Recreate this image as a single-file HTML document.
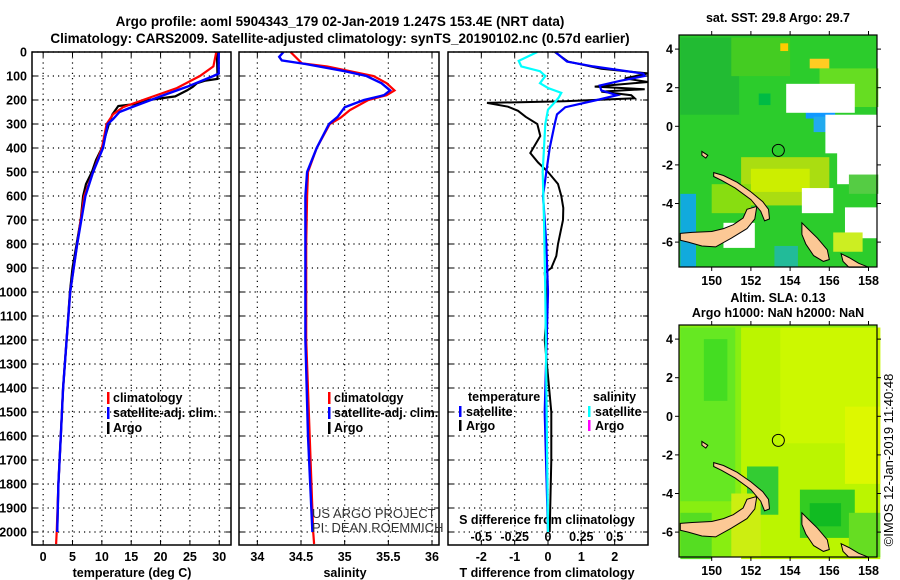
<!DOCTYPE html>
<html><head><meta charset="utf-8">
<style>
html,body{margin:0;padding:0;background:#fff;}
svg{display:block;font-family:"Liberation Sans",sans-serif;}
.b{font-weight:bold;font-size:12.5px;}
.t{font-weight:bold;font-size:13.5px;}
</style></head>
<body>
<svg id="chart" width="900" height="580" viewBox="0 0 900 580" xmlns="http://www.w3.org/2000/svg">
<text class="t" x="340" y="26" text-anchor="middle">Argo profile: aoml 5904343_179 02-Jan-2019 1.247S 153.4E (NRT data)</text>
<text class="t" x="340" y="43" text-anchor="middle">Climatology: CARS2009. Satellite-adjusted climatology: synTS_20190102.nc (0.57d earlier)</text>
<g id="plots"></g>
<text class="b" x="778" y="22" text-anchor="middle">sat. SST: 29.8 Argo: 29.7</text>
<text class="b" x="778" y="302" text-anchor="middle">Altim. SLA: 0.13</text>
<text class="b" x="778" y="317" text-anchor="middle">Argo h1000: NaN h2000: NaN</text>
<text x="312" y="518" font-size="13" fill="#333">US ARGO PROJECT</text>
<text x="312" y="532" font-size="13" fill="#333">PI: DEAN ROEMMICH</text>
<text x="897" y="460" font-size="13" text-anchor="middle" transform="rotate(-90 897 460)" dy="-4">©IMOS 12-Jan-2019 11:40:48</text>
</svg>
<script>
// ---------- data ----------
const depthTicks=[0,100,200,300,400,500,600,700,800,900,1000,1100,1200,1300,1400,1500,1600,1700,1800,1900,2000];
const tempTicks=[0,5,10,15,20,25,30];
const salTicks=[34,34.5,35,35.5,36];
const salTickLabels=["34","34.5","35","35.5","36"];
const tdiffTicks=[-2,-1,0,1,2];
const sdiffTicks=[-0.5,-0.25,0,0.25,0.5];
const sdiffTickLabels=["-0.5","-0.25","0","0.25","0.5"];

const argoTdepth=[0,100,112,120,130,145,160,185,200,215,225,260,300,350,400,450,500,550,600,700,800,900,1000,1200,1400,1600,1800,2000];
const argoT=[29.6,29.7,29.7,27.5,26.2,25.5,24.5,22.5,18,16.3,12.8,11.8,11.2,10.6,10,9,8.3,7.3,6.8,6.4,5.7,5.0,4.55,4.0,3.4,3.0,2.6,2.4];
const climTdepth=[0,60,100,150,200,230,260,300,400,500,600,800,1000,1200,1400,1600,1800,2000,2050];
const climT=[29.5,29.0,26.7,22.8,17.0,13.6,11.9,10.8,10.0,8.5,7.0,5.8,4.6,4.0,3.4,3.0,2.6,2.3,2.2];
const satTdepth=[0,90,100,145,180,233,250,280,300,400,500,600,800,1000,1200,1400,1600,1800,2000];
const satT=[29.9,29.9,29.0,24.5,20.5,14.8,13.0,11.9,11.0,10.2,8.5,7.2,5.8,4.6,4.0,3.4,3.0,2.6,2.4];

const climSdepth=[0,47,60,100,130,160,180,200,242,275,300,400,500,600,800,1200,1600,2000,2050];
const climS=[34.38,34.51,34.8,35.33,35.48,35.57,35.48,35.27,35.06,34.95,34.83,34.68,34.58,34.57,34.56,34.56,34.6,34.64,34.65];
const satSdepth=[0,20,35,50,80,100,130,160,180,200,230,270,300,400,500,600,800,1200,1600,2000];
const satS=[34.3,34.25,34.28,34.55,35.0,35.25,35.42,35.52,35.45,35.22,35.0,34.92,34.82,34.68,34.57,34.55,34.55,34.55,34.58,34.63];

const satTdiffDepth=[0,40,60,90,100,120,140,160,180,200,230,260,300,400,500,600,700,800,1000,1500,2000];
const satTdiff=[0.22,0.57,1.36,2.86,2.9,2.17,1.55,1.6,2.07,1.47,0.52,0.27,0.2,0.05,-0.05,-0.15,-0.1,-0.05,0,-0.1,0];
const argoTdiffDepth=[0,40,70,89,110,125,144,155,165,180,193,205,212,228,245,270,300,350,421,460,500,550,600,650,700,800,850,900,920,1000,1100,1200,1500,1700,2000];
const argoTdiff=[0.2,0.6,1.6,3.0,2.3,3.0,1.4,2.9,1.6,2.5,2.6,0.5,-1.83,-1.2,-0.9,-0.67,-0.32,-0.23,-0.53,-0.3,0.0,0.3,0.4,0.46,0.45,0.3,0.25,0.1,-0.1,-0.05,-0.05,-0.1,0.1,0.1,0.05];
const satSdiffDepth=[0,37,60,80,100,130,150,170,190,210,240,300,400,500,700,1000,2000];
const satSdiff=[-0.08,-0.22,-0.2,-0.06,-0.02,-0.06,0.0,0.1,0.08,0.05,0.0,-0.02,-0.03,-0.04,-0.03,-0.02,0];

// ---------- helpers ----------
const NS="http://www.w3.org/2000/svg";
const root=document.getElementById('plots');
function mk(tag,at,parent){const e=document.createElementNS(NS,tag);for(const k in at)e.setAttribute(k,at[k]);(parent||root).appendChild(e);return e;}
const Y0=52,Y1=545,DMAX=(Y1-Y0)/0.24;
const yD=d=>Y0+d*0.24;

function panel(x0,x1,xmin,xmax,name){
  const xs=v=>x0+(v-xmin)/(xmax-xmin)*(x1-x0);
  const g=mk('g',{});
  
  
  return {g,xs,x0,x1};
}
function grid(p,xticks,name){
  depthTicks.forEach(d=>{const l=mk('line',{x1:p.x0,x2:p.x1,y1:yD(d),y2:yD(d),stroke:'#000','stroke-width':1.2,'stroke-dasharray':'1.2 4'},p.g);
    
    mk('line',{x1:p.x0,x2:p.x0+5,y1:yD(d),y2:yD(d),stroke:'#000'},p.g);mk('line',{x1:p.x1-5,x2:p.x1,y1:yD(d),y2:yD(d),stroke:'#000'},p.g);});
  xticks.forEach(v=>{const l=mk('line',{x1:p.xs(v),x2:p.xs(v),y1:Y0,y2:Y1,stroke:'#000','stroke-width':1.2,'stroke-dasharray':'1.2 4'},p.g);
    
    mk('line',{x1:p.xs(v),x2:p.xs(v),y1:Y1-5,y2:Y1,stroke:'#000'},p.g);mk('line',{x1:p.xs(v),x2:p.xs(v),y1:Y0,y2:Y0+5,stroke:'#000'},p.g);});
}
function frame(p){const r=mk('rect',{x:p.x0,y:Y0,width:p.x1-p.x0,height:Y1-Y0,fill:'none',stroke:'#000','stroke-width':1.5},p.g);
  }
function line(p,dep,val,color,name,w,sc){
  const s=sc||p.xs;
  const pts=dep.map((d,i)=>s(val[i]).toFixed(1)+','+yD(Math.min(d,DMAX)).toFixed(1)).join(' ');
  const l=mk('polyline',{points:pts,fill:'none',stroke:color,'stroke-width':w||2.2,'stroke-linejoin':'miter'},p.g);
  
}
function txt(s,x,y,at,parent,name){const t=mk('text',Object.assign({x,y,class:'b'},at||{}),parent);t.textContent=s;
  return t;}
function legend(p,x,y,items){items.forEach((it,i)=>{mk('rect',{x:x,y:y+i*15-10,width:2.5,height:12,fill:it[1]},p.g);
  txt(it[0],x+6,y+i*15,{},p.g,'legend-entry');});}

// ---- panel 1 temperature
const p1=panel(32,231,-1.9,32,'temperature-panel');
grid(p1,tempTicks,'temperature');
depthTicks.forEach(d=>txt(String(d),27,yD(d)+4.5,{'text-anchor':'end'},p1.g,'depth-tick-label'));
tempTicks.forEach(v=>txt(String(v),p1.xs(v),561,{'text-anchor':'middle'},p1.g,'temperature-tick-label'));
txt('temperature (deg C)',132,577,{'text-anchor':'middle'},p1.g,'temperature-axis-title');
line(p1,argoTdepth,argoT,'#000','argo-temperature-line',2.2);
line(p1,climTdepth,climT,'#ff0000','climatology-temperature-line',2.2);
line(p1,satTdepth,satT,'#0000ff','satellite-temperature-line',2.4);
legend(p1,107,402,[['climatology','#ff0000'],['satellite-adj. clim.','#0000ff'],['Argo','#000']]);
frame(p1);

// ---- panel 2 salinity
const p2=panel(239,439,33.79,36.08,'salinity-panel');
grid(p2,salTicks,'salinity');
salTicks.forEach((v,i)=>txt(salTickLabels[i],p2.xs(v),561,{'text-anchor':'middle'},p2.g,'salinity-tick-label'));
txt('salinity',345,577,{'text-anchor':'middle'},p2.g,'salinity-axis-title');
line(p2,climSdepth,climS,'#ff0000','climatology-salinity-line',2.2);
line(p2,satSdepth,satS,'#0000ff','satellite-salinity-line',2.4);
legend(p2,328,402,[['climatology','#ff0000'],['satellite-adj. clim.','#0000ff'],['Argo','#000']]);
frame(p2);

// ---- panel 3 differences
const p3=panel(448,648,-3,3,'difference-panel');
const sx=v=>p3.xs(v*4);
grid(p3,tdiffTicks,'tdiff');
tdiffTicks.forEach(v=>txt(String(v),p3.xs(v),561,{'text-anchor':'middle'},p3.g,'tdiff-tick-label'));
sdiffTicks.forEach((v,i)=>txt(sdiffTickLabels[i],sx(v),541,{'text-anchor':'middle'},p3.g,'sdiff-tick-label'));
txt('S difference from climatology',547,524,{'text-anchor':'middle'},p3.g,'sdiff-axis-title');
txt('T difference from climatology',547,577,{'text-anchor':'middle'},p3.g,'tdiff-axis-title');
line(p3,argoTdiffDepth,argoTdiff,'#000','argo-tdiff-line',2);
line(p3,satTdiffDepth,satTdiff,'#0000ff','satellite-tdiff-line',2.2);
line(p3,satSdiffDepth,satSdiff,'#00ffff','satellite-sdiff-line',2.2,sx);
txt('temperature',468,401,{},p3.g,'legend-header-temperature');
txt('salinity',593,401,{},p3.g,'legend-header-salinity');
[['satellite','#0000ff',459],['Argo','#000',459]].forEach((it,i)=>{mk('rect',{x:it[2],y:406+i*14,width:2.5,height:11,fill:it[1]},p3.g);txt(it[0],it[2]+7,416+i*14,{},p3.g,'legend-entry');});
[['satellite','#00ffff',588],['Argo','#ff00ff',588]].forEach((it,i)=>{mk('rect',{x:it[2],y:406+i*14,width:2.5,height:11,fill:it[1]},p3.g);txt(it[0],it[2]+7,416+i*14,{},p3.g,'legend-entry');});
frame(p3);

// ---- maps
const lonTicks=[150,152,154,156,158];
const latTicks=[4,2,0,-2,-4,-6];
function map(top,name,base,patches){
  const g=mk('g',{});
  
  
  const X0=679,X1=877,H=232;
  const lx=l=>711.7+19.6*(l-150), ly=a=>top+91.3-19.3*a;
  mk('rect',{x:X0,y:top,width:X1-X0,height:H,fill:base},g);
  patches.forEach(p=>mk('rect',{x:lx(p[0]),y:ly(p[1]),width:p[2]*19.6,height:p[3]*19.3,fill:p[4]},g));
  const land=[
   [[148.4,-5.55],[149,-5.5],[150,-5.45],[150.6,-5.3],[151.1,-5.1],[151.6,-4.75],[151.8,-4.3],[152.3,-4.15],[152.2,-4.8],[151.8,-5.3],[151,-5.8],[150.2,-6.25],[149.5,-6.2],[148.8,-6.0],[148.4,-5.9]],
   [[150.1,-2.4],[150.6,-2.55],[151.3,-2.9],[152.0,-3.4],[152.6,-3.9],[152.9,-4.3],[152.95,-4.8],[152.7,-4.9],[152.5,-4.4],[152.0,-3.8],[151.2,-3.2],[150.5,-2.8],[150.1,-2.6]],
   [[154.6,-5.0],[154.9,-5.3],[155.4,-5.8],[155.9,-6.4],[156.0,-6.9],[155.7,-7.0],[155.2,-6.7],[154.8,-6.1],[154.6,-5.6]],
   [[156.6,-6.6],[157.0,-6.8],[157.5,-7.1],[158,-7.3],[157.0,-7.3],[156.7,-7.0]],
   [[149.5,-1.3],[149.8,-1.5],[149.7,-1.65],[149.5,-1.5]]];
  land.forEach(poly=>{const pg=mk('polygon',{points:poly.map(q=>lx(q[0]).toFixed(1)+','+ly(q[1]).toFixed(1)).join(' '),fill:'#fcc895',stroke:'#000','stroke-width':1},g);
    });
  const c=mk('circle',{cx:lx(153.4),cy:ly(-1.247),r:6,fill:'none',stroke:'#000','stroke-width':1},g);
  
  mk('rect',{x:X0,y:top,width:X1-X0,height:H,fill:'none',stroke:'#000','stroke-width':1.2},g);
  lonTicks.forEach(l=>{mk('line',{x1:lx(l),x2:lx(l),y1:top,y2:top-4,stroke:'#000'},g);mk('line',{x1:lx(l),x2:lx(l),y1:top+H,y2:top+H+4,stroke:'#000'},g);
    txt(String(l),lx(l),top+H+18,{'text-anchor':'middle'},g,'longitude-tick-label');});
  latTicks.forEach(a=>{mk('line',{x1:X0,x2:X0-4,y1:ly(a),y2:ly(a),stroke:'#000'},g);mk('line',{x1:X1,x2:X1+4,y1:ly(a),y2:ly(a),stroke:'#000'},g);
    txt(String(a),673,ly(a)+4.5,{'text-anchor':'end'},g,'latitude-tick-label');});
}
map(35,'sst-map','#2ccc2c',[
 [148.4,4.6,3,4,'#22bb33'],[151,4.6,3,2,'#44cc22'],[155.5,3,3,2,'#66dd22'],[151.5,-1,4,-0,'#ccee00'],[151.5,-1.6,4.5,2.5,'#aadd11'],[152,-2.2,3,1.2,'#ccee00'],[150,-3,2,1.5,'#88dd11'],
 [154.8,1.6,1.5,1.2,'#1199ff'],[155.2,0.5,1,0.8,'#22aaee'],[153.5,4.3,0.4,0.4,'#ffcc00'],[155,3.5,1,0.5,'#ffcc22'],
 [153.8,2.2,3.5,1.5,'#ffffff'],[155.8,0.6,2.8,2,'#ffffff'],[156.4,-1.2,2.2,1.8,'#ffffff'],[154.6,-3.2,1.6,1.3,'#ffffff'],[156.8,-4.2,1.8,1.6,'#ffffff'],[150.6,-5.0,1.6,1.3,'#ffffff'],
 [148.4,-3.5,0.8,3.8,'#11aadd'],[153.2,-6.2,1.2,1.1,'#22bb99'],[157,-2.5,1.5,1,'#55cc44'],[152.4,1.7,0.6,0.6,'#00bb44'],[156.2,-5.5,1.5,1,'#ccee22']
]);
map(325,'sla-map','#88ee11',[
 [148.4,4.6,2.8,9,'#66e822'],[149.6,4,1.2,3.2,'#44dd22'],[151.5,4.6,7.1,12,'#bbf500'],[153.5,4.6,5.1,6,'#ccf800'],[156.8,0.5,1.8,4,'#ddf800'],
 [151.8,-2.6,1.6,2.5,'#33cc33'],[154.5,-3.8,2.8,2.5,'#33cc22'],[155,-4.5,1.6,1.2,'#11bb22'],[151,-4,1.5,3.3,'#ccee11'],[148.4,-5,1.6,2.4,'#55dd22'],[157,-5,1.6,2.3,'#66dd22']
]);
</script>
</body></html>
